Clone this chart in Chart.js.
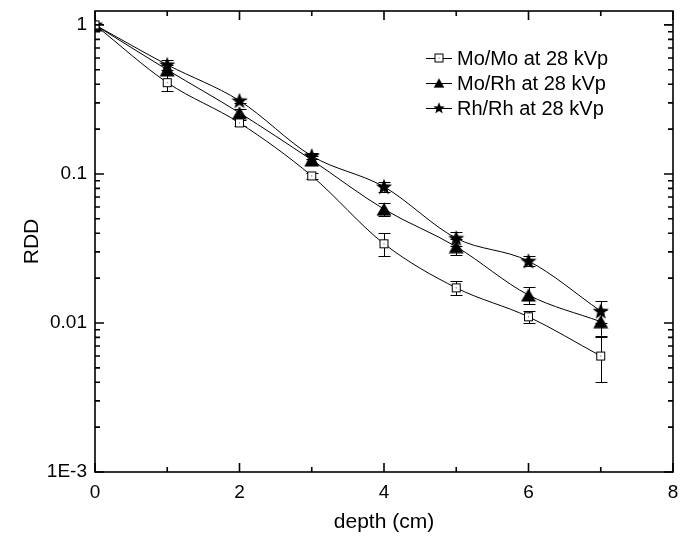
<!DOCTYPE html>
<html><head><meta charset="utf-8">
<script src="https://cdn.jsdelivr.net/npm/chart.js@4/dist/chart.umd.min.js"></script>
<style>html,body{margin:0;padding:0;background:#fff}#wrap{width:688px;height:538px;position:relative}</style>
</head><body><div id="wrap"><canvas id="c"></canvas></div>
<script>
// ---- data ----
const depths = [0, 1, 2, 3, 4, 5, 6, 7];
const moMo    = [1, 0.41, 0.22, 0.097, 0.034, 0.0172, 0.011, 0.006];
const moMoErr = [0, 0.05, 0.01, 0.005, 0.006, 0.0018, 0.001, 0.002];
const moRh    = [1, 0.50, 0.257, 0.124, 0.058, 0.0325, 0.0154, 0.0102];
const moRhErr = [0, 0.04, 0.015, 0.008, 0.006, 0.004, 0.002, 0.002];
const rhRh    = [1, 0.54, 0.31, 0.132, 0.082, 0.037, 0.026, 0.012];
const rhRhErr = [0, 0.04, 0.01, 0.006, 0.006, 0.004, 0.002, 0.002];
const seriesLabels = ['Mo/Mo at 28 kVp', 'Mo/Rh at 28 kVp', 'Rh/Rh at 28 kVp'];
const xTicks = [0, 2, 4, 6, 8];
const yTicks = [1, 0.1, 0.01, 0.001];
const yTickLabels = ['1', '0.1', '0.01', '1E-3'];
const xTitle = 'depth (cm)';
const yTitle = 'RDD';

// ---- marker images ----
function mk(w, h, draw) { const c = document.createElement('canvas'); c.width = w; c.height = h; draw(c.getContext('2d')); return c; }
const squareImg = mk(11, 11, g => {
  g.fillStyle = '#fff'; g.fillRect(1, 1, 9, 9);
  g.strokeStyle = '#000'; g.lineWidth = 1; g.strokeRect(1.5, 1.5, 8, 8);
  g.fillStyle = '#555'; g.fillRect(5, 5, 1, 1);
});
const triImg = mk(16, 14, g => {
  g.fillStyle = '#000'; g.beginPath(); g.moveTo(8, 0.5); g.lineTo(15.5, 13.5); g.lineTo(0.5, 13.5); g.closePath(); g.fill();
});
const starImg = mk(18, 18, g => {
  g.fillStyle = '#000'; g.beginPath();
  const cx = 9, cy = 9.5, R = 8.5, r = 3.6;
  for (let i = 0; i < 10; i++) {
    const a = -Math.PI / 2 + i * Math.PI / 5, rr = i % 2 ? r : R;
    const px = cx + rr * Math.cos(a), py = cy + rr * Math.sin(a);
    i ? g.lineTo(px, py) : g.moveTo(px, py);
  }
  g.closePath(); g.fill();
});

const FONT = "'Liberation Sans', Arial, sans-serif";

function mkDs(label, vals, errs, img) {
  return {
    label, data: depths.map((d, i) => ({ x: d, y: vals[i] })), errors: errs,
    borderColor: '#000', backgroundColor: '#000', borderWidth: 1,
    pointStyle: img, pointRadius: 6, pointHoverRadius: 6,
    cubicInterpolationMode: 'monotone', markerImg: img
  };
}

function zeroPad(s) { s.paddingTop = 0; s.paddingBottom = 0; s.paddingLeft = 0; s.paddingRight = 0; }

const errorBars = {
  id: 'errorBars',
  beforeDatasetsDraw(chart) {
    const { ctx, scales: { x, y } } = chart;
    ctx.save(); ctx.strokeStyle = '#000'; ctx.lineWidth = 1;
    chart.data.datasets.forEach(ds => {
      ds.data.forEach((p, i) => {
        const e = ds.errors[i]; if (!e) return;
        const px = Math.round(x.getPixelForValue(p.x)) + 0.5;
        const y1 = y.getPixelForValue(p.y + e), y2 = y.getPixelForValue(p.y - e);
        ctx.beginPath();
        ctx.moveTo(px, y1); ctx.lineTo(px, y2);
        ctx.moveTo(px - 6, Math.round(y1) + 0.5); ctx.lineTo(px + 6, Math.round(y1) + 0.5);
        ctx.moveTo(px - 6, Math.round(y2) + 0.5); ctx.lineTo(px + 6, Math.round(y2) + 0.5);
        ctx.stroke();
      });
    });
    ctx.restore();
  }
};

const frame = {
  id: 'frame',
  afterDraw(chart) {
    const { ctx, chartArea: a, scales: { x, y } } = chart;
    ctx.save(); ctx.strokeStyle = '#000';
    ctx.lineWidth = 1.6;
    ctx.strokeRect(a.left, a.top, a.right - a.left, a.bottom - a.top);
    ctx.beginPath();
    for (let v = 0; v <= 8; v++) {
      const px = x.getPixelForValue(v), L = v % 2 === 0 ? 9 : 5;
      ctx.moveTo(px, a.bottom); ctx.lineTo(px, a.bottom - L);
      ctx.moveTo(px, a.top); ctx.lineTo(px, a.top + L);
    }
    for (let e = -3; e <= 0; e++) {
      for (let m = 1; m <= 9; m++) {
        const v = m * Math.pow(10, e);
        if (v > y.max || v < y.min) continue;
        const py = y.getPixelForValue(v), L = m === 1 ? 9 : 5;
        ctx.moveTo(a.left, py); ctx.lineTo(a.left + L, py);
        ctx.moveTo(a.right, py); ctx.lineTo(a.right - L, py);
      }
    }
    ctx.stroke();
    ctx.restore();
  }
};

const legendPlugin = {
  id: 'customLegend',
  afterDraw(chart) {
    const { ctx } = chart;
    ctx.save();
    ctx.font = '20px ' + FONT; ctx.fillStyle = '#000'; ctx.textBaseline = 'middle';
    chart.data.datasets.forEach((ds, i) => {
      const yy = 58 + i * 25;
      ctx.strokeStyle = '#000'; ctx.lineWidth = 1;
      ctx.beginPath(); ctx.moveTo(426, yy + 0.5); ctx.lineTo(452, yy + 0.5); ctx.stroke();
      const img = ds.markerImg;
      const s = 0.72;
      if (img === squareImg) ctx.drawImage(img, 439 - img.width / 2, yy - img.height / 2);
      else ctx.drawImage(img, 439 - img.width * s / 2, yy - img.height * s / 2, img.width * s, img.height * s);
      ctx.fillText(ds.label, 457, yy + 1);
    });
    ctx.restore();
  }
};

new Chart(document.getElementById('c'), {
  type: 'line',
  data: { datasets: [
    mkDs(seriesLabels[0], moMo, moMoErr, squareImg),
    mkDs(seriesLabels[1], moRh, moRhErr, triImg),
    mkDs(seriesLabels[2], rhRh, rhRhErr, starImg)
  ] },
  options: {
    responsive: true, maintainAspectRatio: false, animation: false,
    layout: { padding: { top: 11, right: 15, left: 0, bottom: 0 } },
    plugins: { legend: { display: false }, tooltip: { enabled: false } },
    scales: {
      x: {
        type: 'linear', min: 0, max: 8,
        afterBuildTicks: s => { s.ticks = xTicks.map(v => ({ value: v })); },
        afterFit: s => { s.height = 66; zeroPad(s); },
        grid: { display: false, drawTicks: false }, border: { display: false },
        ticks: { color: '#000', font: { family: FONT, size: 19 }, padding: 9, maxRotation: 0 },
        title: { display: true, text: xTitle, color: '#000', font: { family: FONT, size: 21 }, padding: { top: 0, bottom: 3 } }
      },
      y: {
        type: 'logarithmic', min: 0.001, max: 1.24,
        afterBuildTicks: s => { s.ticks = yTicks.map(v => ({ value: v })); },
        afterFit: s => { s.width = 95; zeroPad(s); },
        grid: { display: false, drawTicks: false }, border: { display: false },
        ticks: { color: '#000', font: { family: FONT, size: 19 }, padding: 8,
          callback: v => { const i = yTicks.findIndex(t => Math.abs(t - v) / t < 1e-6); return i >= 0 ? yTickLabels[i] : ''; } },
        title: { display: true, text: yTitle, color: '#000', font: { family: FONT, size: 21 }, padding: { top: 20, bottom: 0 } }
      }
    }
  },
  plugins: [errorBars, frame, legendPlugin]
});
</script>
</body></html>
